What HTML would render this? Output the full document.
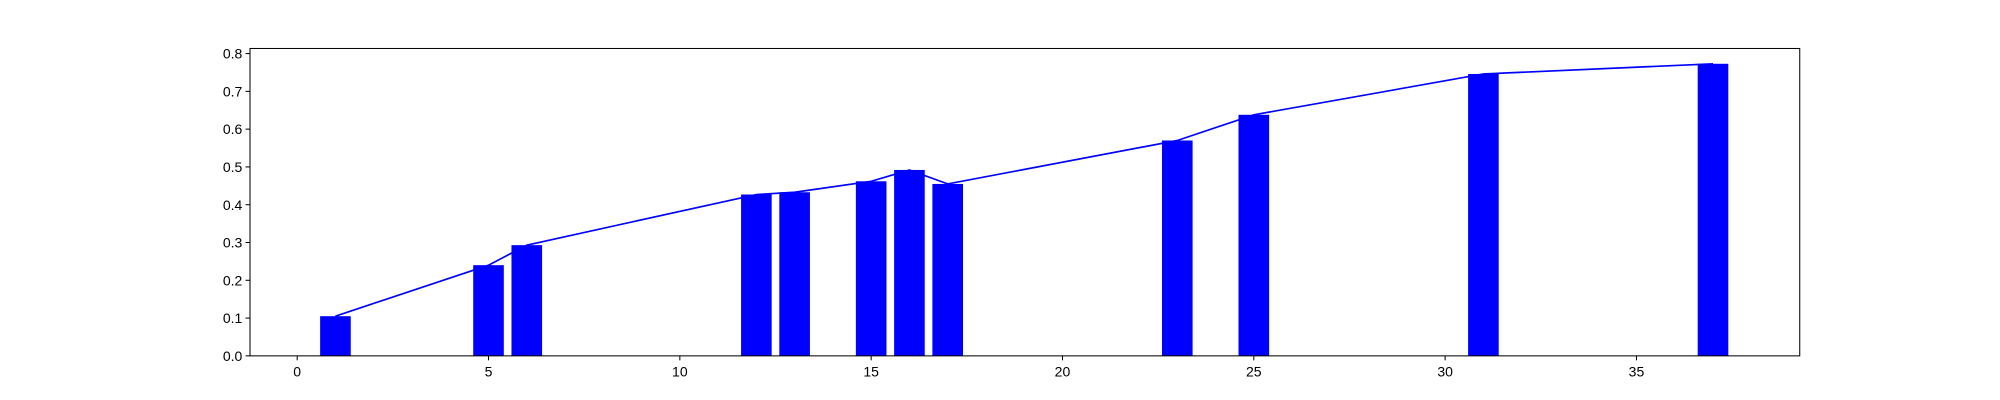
<!DOCTYPE html>
<html><head><meta charset="utf-8"><style>
html,body{margin:0;padding:0;background:#fff;width:2000px;height:400px;overflow:hidden}
svg{display:block}
svg text{font-family:"Liberation Sans","DejaVu Sans",sans-serif;font-size:11px;fill:#000}
</style></head><body>
<svg id="chart" width="2000" height="400" viewBox="0 0 1568 313.6" preserveAspectRatio="none"></svg>
<script>
const categories=[1,5,6,12,13,15,16,17,23,25,31,37];
const values=[0.105,0.24,0.293,0.427,0.433,0.462,0.492,0.455,0.57,0.638,0.746,0.773];
const xTicks=[0,5,10,15,20,25,30,35];
const yTicks=[0.0,0.1,0.2,0.3,0.4,0.5,0.6,0.7,0.8];
const L=196,R=1411,T=38,B=279;
const xMin=-1.233,xMax=39.267,yMin=0,yMax=0.8135;
const sx=v=>L+(v-xMin)/(xMax-xMin)*(R-L);
const sy=v=>B-(v-yMin)/(yMax-yMin)*(B-T);
const svg=document.getElementById('chart');
const NS='http://www.w3.org/2000/svg';
function mk(t,a){const e=document.createElementNS(NS,t);for(const k in a)e.setAttribute(k,a[k]);svg.appendChild(e);return e;}
categories.forEach((c,i)=>{
  const x0=sx(c-0.4),x1=sx(c+0.4),y=sy(values[i]);
  const r=mk('rect',{x:x0,y:y,width:x1-x0,height:sy(0)-y,fill:'#0000ff'});
  
  
});
const pts=categories.map((c,i)=>sx(c)+','+sy(values[i])).join(' ');
const pl=mk('polyline',{points:pts,fill:'none',stroke:'#0000ff','stroke-width':1.3});


const fr=mk('rect',{x:L,y:T,width:R-L,height:B-T,fill:'none',stroke:'#000','stroke-width':0.8});


xTicks.forEach(t=>{
  const x=sx(t);
  const l=mk('line',{x1:x,x2:x,y1:B,y2:B+3.5,stroke:'#000','stroke-width':0.8});
  
  
  const tx=mk('text',{x:x,y:B+16,'text-anchor':'middle'});
  tx.textContent=t;
  
  
});
yTicks.forEach(t=>{
  const y=sy(t);
  const l=mk('line',{x1:L-3.5,x2:L,y1:y,y2:y,stroke:'#000','stroke-width':0.8});
  
  
  const tx=mk('text',{x:L-6,y:y+4,'text-anchor':'end'});
  tx.textContent=t.toFixed(1);
  
  
});
</script>
</body></html>
